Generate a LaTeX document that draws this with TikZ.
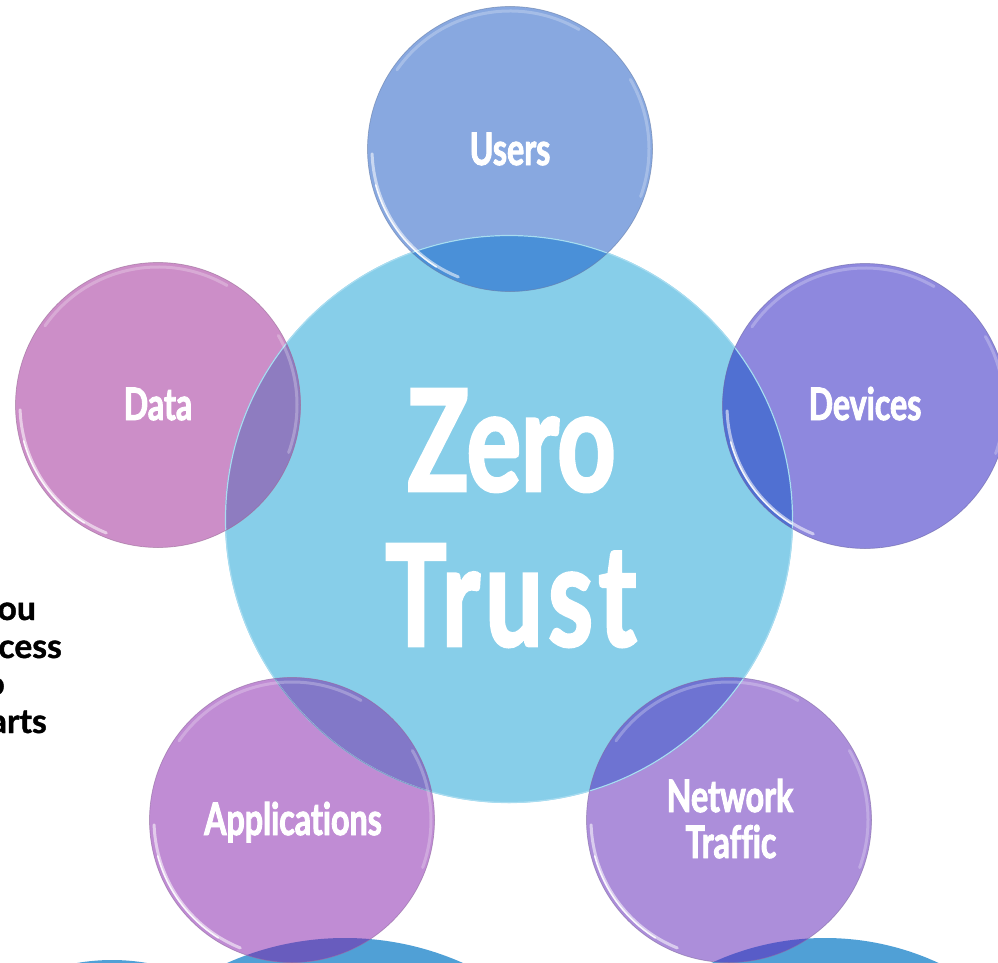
\documentclass[tikz,border=0pt]{standalone}
\usepackage{fontspec}
\newfontfamily\condfont{Lato}[FakeStretch=0.72, FakeBold=2, Ligatures=NoCommon]
\newfontfamily\plainfont{Lato}[FakeBold=1.2]
\definecolor{cBlue}{HTML}{87CEE9}
\definecolor{cUsers}{HTML}{88A8E0}
\definecolor{oUsers}{HTML}{4A90D8}
\definecolor{cData}{HTML}{CC8EC8}
\definecolor{oData}{HTML}{8E7CC0}
\definecolor{cDev}{HTML}{8E88DE}
\definecolor{oDev}{HTML}{5070D2}
\definecolor{cApp}{HTML}{C08CD4}
\definecolor{oApp}{HTML}{8278C8}
\definecolor{cNet}{HTML}{AC8EDA}
\definecolor{oNet}{HTML}{6E73D2}
\definecolor{cBottom}{HTML}{50A0D6}
\definecolor{bApp}{HTML}{685CBE}
\definecolor{bNet}{HTML}{585CC8}
\definecolor{cRim}{HTML}{A8DCF0}
\tikzset{
  lbl/.style={text=white, font=\condfont\bfseries\fontsize{44.7}{46}\selectfont, inner sep=0pt},
  big/.style={text=white, font=\condfont\bfseries\fontsize{141}{155}\selectfont, inner sep=0pt},
  side/.style={text=black, font=\plainfont\bfseries\fontsize{33.6}{37.7}\selectfont, inner sep=0pt, anchor=base east},
  gleam/.style={white, line cap=round, opacity=0.55, line width=3pt},
  gleamcore/.style={white, line cap=round, opacity=0.85, line width=1.6pt},
  soft/.style={white, line cap=round, opacity=0.25, line width=3pt}
}
% #1 centre, #2 fill colour
\newcommand{\glassrim}[2]{%
  \draw[#2!75!black, line width=0.7pt, opacity=0.6] (#1) circle[radius=142.5];
  \draw[gleam] (#1) ++(112:138) arc[start angle=112, end angle=178, radius=138];
  \draw[gleamcore] (#1) ++(122:139) arc[start angle=122, end angle=165, radius=139];
  \draw[soft] (#1) ++(215:138) arc[start angle=215, end angle=300, radius=138];
  \draw[soft] (#1) ++(330:139) arc[start angle=330, end angle=380, radius=139];
}
\begin{document}
\begin{tikzpicture}[x=1pt,y=-1pt]
\useasboundingbox (0,0) rectangle (998,963);
\clip (0,0) rectangle (998,963);

% coordinates of the discs
\coordinate (cZ) at (509,519);
\coordinate (cU) at (510,149);
\coordinate (cDa) at (158,405);
\coordinate (cDe) at (865,406);
\coordinate (cA) at (292,820);
\coordinate (cN) at (729,820);
\coordinate (bL) at (112,1165);
\coordinate (bM) at (345,1228);
\coordinate (bR) at (825,1208);

% partial discs at the bottom
\fill[cBottom] (bL) circle[radius=205];
\fill[cBottom] (bM) circle[radius=290];
\fill[cBottom] (bR) circle[radius=270];

% central disc
\fill[cBlue] (cZ) circle[radius=284];

% satellites
\fill[cUsers] (cU) circle[radius=142.5];
\fill[cData] (cDa) circle[radius=142.5];
\fill[cDev] (cDe) circle[radius=142.5];
\fill[cApp] (cA) circle[radius=142.5];
\fill[cNet] (cN) circle[radius=142.5];

% overlaps with the central disc
\begin{scope}
  \clip (cZ) circle[radius=284];
  \fill[oUsers] (cU) circle[radius=142.5];
  \fill[oData] (cDa) circle[radius=142.5];
  \fill[oDev] (cDe) circle[radius=142.5];
  \fill[oApp] (cA) circle[radius=142.5];
  \fill[oNet] (cN) circle[radius=142.5];
\end{scope}
% overlaps with the bottom discs
\begin{scope}
  \clip (bM) circle[radius=290];
  \fill[bApp] (cA) circle[radius=142.5];
\end{scope}
\begin{scope}
  \clip (bR) circle[radius=270];
  \fill[bNet] (cN) circle[radius=142.5];
\end{scope}

% rim of the central disc
\draw[cRim, line width=1.2pt] (cZ) circle[radius=283.5];
\begin{scope}
  \clip (cA) circle[radius=142.5];
  \draw[oApp!80!black, line width=0.8pt, opacity=0.6] (cZ) circle[radius=283.5];
\end{scope}

% glassy rims
\glassrim{cU}{cUsers}
\glassrim{cDa}{cData}
\glassrim{cDe}{cDev}
\glassrim{cA}{cApp}
\glassrim{cN}{cNet}

% labels
\node[big, anchor=base] (zero) at (511.5,491) {Zero};
\node[big, anchor=base, font=\condfont\bfseries\fontsize{141}{155}\selectfont\addfontfeature{LetterSpace=4}] (trust) at (511,646) {Trust};
\node[lbl, anchor=base] (users) at (510,165) {Users};
\node[lbl, anchor=base] (data) at (158,420) {Data};
\node[lbl, anchor=base] (devices) at (865,420) {Devices};
\node[lbl, anchor=base] (apps) at (293,835) {Applications};
\node[lbl, anchor=base] (net1) at (730,812) {Network};
\node[lbl, anchor=base] (net2) at (731,858) {Traffic};

% side text, cut by the left edge as in the reference
\node[side] (s1) at (36,620) {you};
\node[side] (s2) at (62,658) {cess};
\node[side] (s3) at (5,695) {o};
\node[side] (s4) at (47,733) {arts};
\end{tikzpicture}
\end{document}
